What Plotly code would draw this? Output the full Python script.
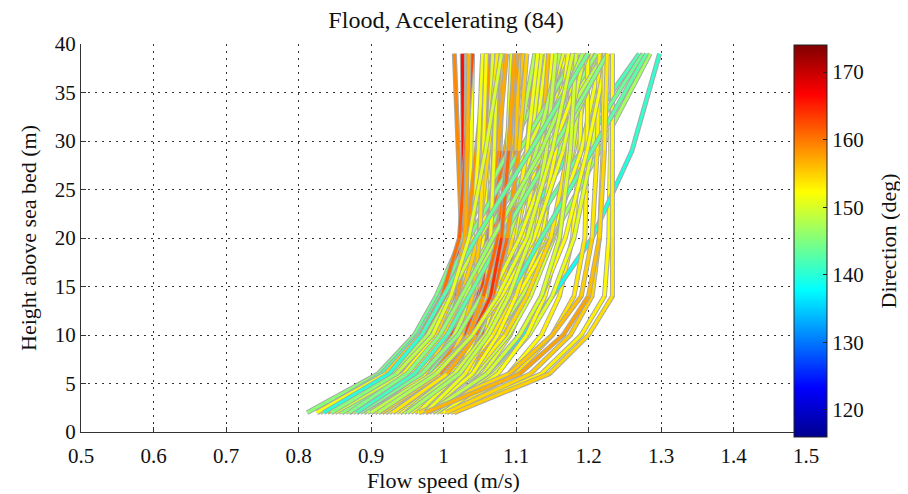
import plotly.graph_objects as go
from plotly.colors import sample_colorscale

TITLE = "Flood, Accelerating (84)"
X_LABEL = "Flow speed (m/s)"
Y_LABEL = "Height above sea bed (m)"
CBAR_LABEL = "Direction (deg)"

X_TICKS = [0.5, 0.6, 0.7, 0.8, 0.9, 1.0, 1.1, 1.2, 1.3, 1.4, 1.5]
Y_TICKS = [0, 5, 10, 15, 20, 25, 30, 35, 40]
CBAR_TICKS = [120, 130, 140, 150, 160, 170]
DIR_MIN, DIR_MAX = 116, 174

# Heights of the profile nodes (m)
HEIGHTS = [2, 6, 10, 14, 20, 29, 39]

# Flow speed (m/s) at each height, one row per profile (84 profiles)
SPEED = [
    [0.830, 0.925, 0.975, 1.000, 1.025, 1.020, 1.015],
    [0.870, 0.955, 0.995, 1.015, 1.028, 1.027, 1.026],
    [0.905, 0.975, 1.005, 1.020, 1.030, 1.031, 1.032],
    [0.850, 0.945, 0.990, 1.012, 1.030, 1.033, 1.035],
    [0.925, 0.990, 1.015, 1.028, 1.036, 1.038, 1.040],
    [0.880, 0.965, 1.005, 1.025, 1.040, 1.048, 1.054],
    [0.940, 1.000, 1.025, 1.040, 1.050, 1.055, 1.059],
    [0.955, 1.012, 1.038, 1.050, 1.057, 1.060, 1.063],
    [0.895, 0.980, 1.020, 1.040, 1.055, 1.062, 1.068],
    [0.965, 1.020, 1.045, 1.058, 1.065, 1.070, 1.074],
    [0.845, 0.935, 0.985, 1.010, 1.035, 1.058, 1.080],
    [0.910, 0.985, 1.020, 1.040, 1.060, 1.075, 1.087],
    [0.985, 1.035, 1.058, 1.070, 1.080, 1.088, 1.094],
    [0.935, 1.000, 1.035, 1.055, 1.075, 1.090, 1.102],
    [0.870, 0.960, 1.005, 1.030, 1.060, 1.088, 1.108],
    [0.900, 0.975, 1.015, 1.040, 1.070, 1.102, 1.126],
    [0.975, 1.030, 1.060, 1.078, 1.095, 1.115, 1.130],
    [0.920, 0.995, 1.035, 1.060, 1.090, 1.118, 1.135],
    [0.812, 0.910, 0.960, 0.990, 1.025, 1.090, 1.160],
    [0.826, 0.915, 0.965, 0.995, 1.035, 1.105, 1.183],
    [0.835, 0.925, 0.970, 1.000, 1.045, 1.120, 1.199],
    [0.850, 0.935, 0.980, 1.010, 1.055, 1.130, 1.211],
    [0.860, 0.945, 0.990, 1.020, 1.065, 1.140, 1.222],
    [0.880, 0.960, 1.005, 1.035, 1.080, 1.150, 1.226],
    [0.900, 0.975, 1.020, 1.050, 1.100, 1.175, 1.270],
    [0.920, 0.995, 1.040, 1.070, 1.115, 1.190, 1.275],
    [0.940, 1.015, 1.060, 1.090, 1.135, 1.205, 1.280],
    [0.960, 1.030, 1.075, 1.110, 1.150, 1.215, 1.285],
    [0.985, 1.060, 1.110, 1.150, 1.205, 1.260, 1.298],
    [0.845, 0.930, 0.978, 1.008, 1.050, 1.115, 1.178],
    [0.870, 0.950, 0.995, 1.025, 1.068, 1.135, 1.192],
    [0.890, 0.965, 1.010, 1.040, 1.085, 1.150, 1.210],
    [0.905, 0.980, 1.028, 1.058, 1.100, 1.160, 1.222],
    [0.915, 0.990, 1.035, 1.065, 1.105, 1.150, 1.199],
    [0.930, 1.005, 1.050, 1.080, 1.120, 1.165, 1.211],
    [0.950, 1.020, 1.060, 1.085, 1.110, 1.130, 1.144],
    [0.975, 1.040, 1.075, 1.100, 1.125, 1.140, 1.150],
    [0.990, 1.055, 1.092, 1.115, 1.138, 1.152, 1.160],
    [0.960, 1.035, 1.078, 1.105, 1.135, 1.155, 1.167],
    [1.000, 1.075, 1.115, 1.140, 1.160, 1.172, 1.178],
    [0.980, 1.060, 1.105, 1.135, 1.160, 1.175, 1.183],
    [1.005, 1.090, 1.135, 1.160, 1.178, 1.188, 1.192],
    [0.995, 1.100, 1.150, 1.180, 1.195, 1.198, 1.199],
    [1.004, 1.120, 1.175, 1.205, 1.215, 1.220, 1.222],
    [1.010, 1.135, 1.190, 1.222, 1.228, 1.230, 1.233],
    [1.015, 1.146, 1.200, 1.233, 1.233, 1.233, 1.233],
    [0.967, 1.090, 1.150, 1.190, 1.205, 1.212, 1.215],
    [0.975, 1.105, 1.165, 1.200, 1.215, 1.222, 1.226],
    [0.880, 0.965, 1.010, 1.035, 1.060, 1.085, 1.108],
    [0.905, 0.985, 1.028, 1.050, 1.072, 1.092, 1.110],
    [0.930, 1.005, 1.045, 1.068, 1.088, 1.104, 1.115],
    [0.855, 0.945, 0.995, 1.025, 1.055, 1.085, 1.113],
    [0.920, 1.000, 1.045, 1.072, 1.100, 1.125, 1.142],
    [0.945, 1.015, 1.058, 1.085, 1.115, 1.140, 1.158],
    [0.890, 0.975, 1.025, 1.058, 1.095, 1.130, 1.160],
    [0.865, 0.955, 1.005, 1.040, 1.082, 1.125, 1.165],
    [0.955, 1.025, 1.068, 1.098, 1.130, 1.155, 1.172],
    [0.910, 0.990, 1.040, 1.075, 1.115, 1.150, 1.178],
    [0.935, 1.010, 1.058, 1.090, 1.128, 1.160, 1.185],
    [0.965, 1.040, 1.085, 1.115, 1.148, 1.172, 1.188],
    [0.900, 0.985, 1.040, 1.080, 1.125, 1.165, 1.195],
    [0.945, 1.020, 1.070, 1.105, 1.145, 1.180, 1.205],
    [0.925, 1.010, 1.065, 1.102, 1.148, 1.190, 1.218],
    [0.985, 1.060, 1.105, 1.135, 1.168, 1.198, 1.226],
    [0.870, 0.965, 1.020, 1.050, 1.070, 1.078, 1.082],
    [0.900, 0.980, 1.028, 1.048, 1.062, 1.070, 1.075],
    [0.950, 1.020, 1.060, 1.080, 1.095, 1.100, 1.104],
    [0.915, 0.995, 1.040, 1.065, 1.080, 1.090, 1.098],
    [0.940, 1.015, 1.055, 1.080, 1.100, 1.115, 1.126],
    [0.960, 1.030, 1.075, 1.100, 1.120, 1.135, 1.145],
    [0.825, 0.920, 0.968, 0.998, 1.022, 1.030, 1.040],
    [0.840, 0.930, 0.975, 1.003, 1.025, 1.028, 1.030],
    [0.858, 0.940, 0.985, 1.012, 1.032, 1.045, 1.060],
    [0.875, 0.955, 1.000, 1.025, 1.048, 1.062, 1.074],
    [0.895, 0.968, 1.012, 1.038, 1.058, 1.072, 1.082],
    [0.912, 0.985, 1.025, 1.050, 1.075, 1.095, 1.110],
    [0.930, 1.000, 1.042, 1.070, 1.098, 1.120, 1.135],
    [0.950, 1.022, 1.062, 1.090, 1.120, 1.142, 1.155],
    [0.970, 1.045, 1.090, 1.120, 1.152, 1.178, 1.195],
    [0.990, 1.070, 1.118, 1.150, 1.180, 1.205, 1.222],
    [0.885, 0.970, 1.020, 1.052, 1.090, 1.128, 1.160],
    [0.915, 0.998, 1.050, 1.085, 1.125, 1.165, 1.199],
    [0.940, 1.020, 1.072, 1.108, 1.150, 1.190, 1.222],
    [0.860, 0.948, 0.998, 1.030, 1.075, 1.130, 1.185],
]

# Flow direction (deg) at each height, same profile order
DIRECTION = [
    [149, 152, 155, 157, 158, 159, 159],
    [152, 156, 160, 163, 165, 166, 166],
    [150, 153, 156, 158, 158, 157, 156],
    [148, 151, 154, 156, 157, 157, 156],
    [150, 152, 153, 153, 152, 152, 151],
    [147, 150, 152, 153, 153, 152, 151],
    [151, 153, 155, 156, 155, 153, 152],
    [149, 151, 153, 155, 157, 158, 159],
    [146, 149, 151, 152, 152, 151, 150],
    [150, 152, 153, 153, 152, 151, 151],
    [144, 147, 150, 151, 151, 150, 150],
    [150, 152, 155, 158, 160, 158, 156],
    [149, 151, 152, 152, 152, 151, 150],
    [151, 153, 156, 160, 162, 159, 156],
    [145, 148, 150, 151, 151, 150, 149],
    [143, 146, 148, 149, 149, 148, 148],
    [150, 152, 154, 155, 154, 152, 151],
    [147, 149, 151, 152, 152, 151, 151],
    [146, 145, 144, 144, 145, 146, 147],
    [143, 142, 142, 143, 144, 145, 146],
    [140, 140, 141, 142, 143, 144, 144],
    [144, 143, 143, 144, 145, 146, 146],
    [147, 146, 146, 147, 148, 148, 149],
    [142, 141, 142, 143, 144, 145, 145],
    [140, 139, 139, 140, 141, 142, 142],
    [143, 142, 142, 143, 143, 144, 144],
    [141, 140, 140, 141, 142, 143, 143],
    [145, 144, 144, 145, 146, 147, 147],
    [138, 137, 137, 138, 139, 140, 141],
    [147, 147, 148, 149, 150, 150, 151],
    [145, 145, 146, 146, 147, 147, 148],
    [148, 147, 147, 148, 149, 149, 150],
    [144, 144, 145, 146, 146, 147, 147],
    [149, 149, 150, 151, 151, 152, 152],
    [146, 146, 147, 148, 149, 149, 150],
    [150, 151, 152, 152, 152, 152, 152],
    [151, 152, 152, 153, 153, 152, 152],
    [149, 150, 151, 151, 151, 151, 150],
    [152, 153, 153, 153, 152, 152, 151],
    [151, 152, 152, 152, 152, 151, 151],
    [148, 149, 150, 150, 150, 150, 149],
    [152, 152, 153, 153, 153, 152, 152],
    [153, 154, 154, 154, 153, 153, 152],
    [154, 155, 155, 155, 154, 153, 153],
    [153, 153, 153, 153, 152, 152, 152],
    [155, 155, 154, 154, 153, 153, 152],
    [154, 155, 156, 156, 154, 153, 153],
    [156, 157, 158, 157, 155, 154, 153],
    [156, 159, 163, 165, 163, 158, 155],
    [154, 157, 161, 164, 162, 157, 154],
    [152, 155, 159, 162, 160, 156, 154],
    [148, 150, 151, 152, 152, 151, 150],
    [150, 151, 152, 153, 153, 152, 151],
    [148, 149, 150, 151, 151, 150, 149],
    [146, 148, 149, 150, 150, 149, 148],
    [149, 150, 151, 152, 152, 151, 151],
    [151, 152, 153, 154, 153, 152, 152],
    [147, 148, 150, 151, 151, 150, 150],
    [150, 151, 152, 153, 152, 152, 151],
    [151, 152, 154, 155, 154, 153, 152],
    [148, 149, 151, 152, 152, 151, 150],
    [149, 150, 151, 152, 152, 151, 151],
    [151, 152, 153, 153, 152, 152, 151],
    [150, 151, 152, 153, 152, 152, 152],
    [155, 159, 164, 167, 164, 158, 154],
    [157, 161, 165, 167, 163, 158, 155],
    [153, 156, 160, 163, 161, 157, 154],
    [153, 157, 162, 165, 163, 159, 156],
    [155, 158, 162, 166, 164, 160, 157],
    [152, 155, 159, 163, 161, 157, 155],
    [150, 153, 157, 160, 161, 162, 163],
    [155, 158, 161, 164, 165, 166, 166],
    [151, 154, 157, 159, 159, 158, 157],
    [149, 152, 154, 155, 155, 154, 153],
    [148, 150, 152, 154, 156, 157, 157],
    [150, 152, 154, 156, 156, 154, 153],
    [148, 149, 151, 152, 152, 151, 151],
    [146, 148, 149, 150, 150, 149, 149],
    [148, 149, 150, 150, 150, 150, 149],
    [149, 150, 150, 151, 151, 150, 150],
    [144, 145, 146, 147, 147, 148, 148],
    [142, 143, 144, 145, 146, 147, 147],
    [146, 147, 148, 149, 150, 150, 150],
    [145, 146, 147, 148, 149, 150, 150],
]

JET = [
    [0.0, "#00008F"], [0.125, "#0000FF"], [0.375, "#00FFFF"],
    [0.625, "#FFFF00"], [0.875, "#FF0000"], [1.0, "#800000"],
]
FONT = "Liberation Serif, Times New Roman, serif"
NB = "\u00a0"

# The page body keeps an 8px margin, so the figure is laid out on a
# 900x486 canvas that starts 8px in from the window's top-left corner.
W, H = 900, 486
PLOT_L, PLOT_R, PLOT_T, PLOT_B = 73, 798, 36, 424


def dir_color(d):
    t = (d - DIR_MIN) / (DIR_MAX - DIR_MIN)
    t = min(max(t, 0.0), 1.0)
    return sample_colorscale(JET, [t])[0]


fig = go.Figure()
n = len(SPEED)
order = [(i * 37) % n for i in range(n)]
for k in order:
    sp = SPEED[k]
    dr = DIRECTION[k]
    fig.add_trace(go.Scatter(x=sp, y=HEIGHTS, mode="lines",
                             line=dict(color="#a8a8a8", width=5),
                             hoverinfo="skip", showlegend=False))
    for j in range(len(HEIGHTS) - 1):
        c = dir_color((dr[j] + dr[j + 1]) / 2)
        fig.add_trace(go.Scatter(x=sp[j:j + 2], y=HEIGHTS[j:j + 2], mode="lines",
                                 line=dict(color=c, width=3),
                                 hoverinfo="skip", showlegend=False))

pw = PLOT_R - PLOT_L
ph = PLOT_B - PLOT_T
# colour bar carrier
fig.add_trace(go.Scatter(
    x=[None], y=[None], mode="markers", showlegend=False, hoverinfo="skip",
    marker=dict(color=[150], colorscale=JET, cmin=DIR_MIN, cmax=DIR_MAX,
                showscale=True,
                colorbar=dict(
                    x=(786 - PLOT_L) / pw, xanchor="left", xpad=0, ypad=0,
                    y=(PLOT_B - 233) / ph, yanchor="middle",
                    len=392, lenmode="pixels", thickness=33, thicknessmode="pixels",
                    outlinewidth=1, outlinecolor="#222",
                    tickvals=CBAR_TICKS,
                    ticktext=[f"{v}{NB}{NB}" for v in CBAR_TICKS],
                    ticks="inside", ticklen=4, tickcolor="#222",
                    tickfont=dict(family=FONT, size=21, color="#111"),
                    title=dict(text=CBAR_LABEL, side="right",
                               font=dict(family=FONT, size=22, color="#111")),
                ))))

axis_common = dict(
    showgrid=True, gridcolor="#333", gridwidth=1, griddash="2px,5px",
    zeroline=False, showline=True, linecolor="#333", linewidth=1,
    ticks="inside", ticklen=5, tickcolor="#333", mirror=False,
    automargin=False,
    tickfont=dict(family=FONT, size=21, color="#111"),
)

fig.update_xaxes(range=[0.5, 1.5], tickvals=X_TICKS,
                 ticktext=[f"{v:g}" for v in X_TICKS],
                 ticklabelstandoff=5,
                 title=dict(text=X_LABEL, standoff=3,
                            font=dict(family=FONT, size=22, color="#111")),
                 **axis_common)
fig.update_yaxes(range=[0, 40], tickvals=Y_TICKS,
                 title=dict(text=Y_LABEL, standoff=12,
                            font=dict(family=FONT, size=22, color="#111")),
                 **axis_common)

fig.update_layout(
    width=W, height=H, autosize=False,
    margin=dict(l=PLOT_L, r=W - PLOT_R, t=PLOT_T, b=H - PLOT_B, autoexpand=False),
    plot_bgcolor="white", paper_bgcolor="white",
    title=dict(text=TITLE, x=438 / W, xanchor="center", xref="container",
               y=1 - 12 / H, yanchor="middle", yref="container",
               font=dict(family=FONT, size=24, color="#111")),
    font=dict(family=FONT, size=21, color="#111"),
)

fig.write_html("out.html")
